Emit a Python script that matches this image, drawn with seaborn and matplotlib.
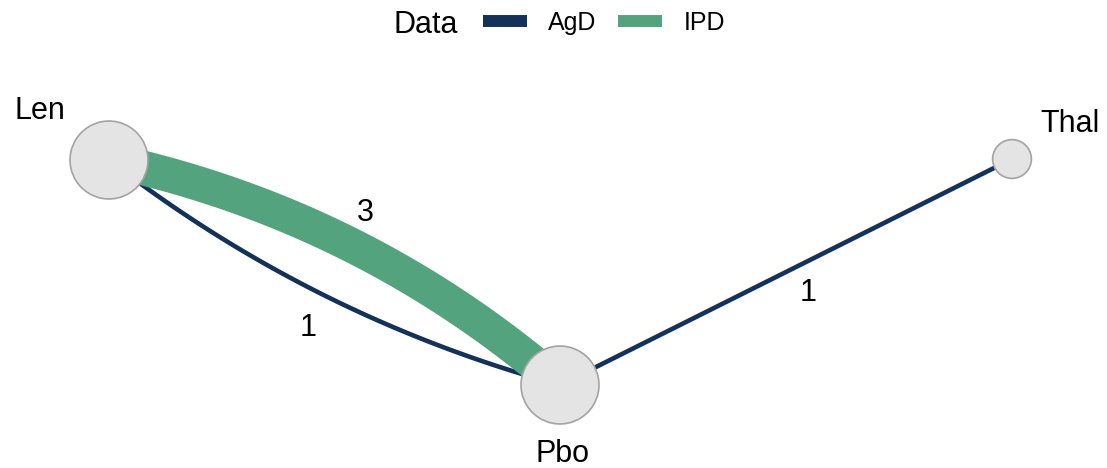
import numpy as np
import pandas as pd
import matplotlib
matplotlib.use('Agg')
import matplotlib.pyplot as plt
from matplotlib.lines import Line2D
import seaborn as sns

# network data
nodes = ['Len', 'Pbo', 'Thal']
node_x = [109, 560, 1012]
node_y = [160, 385, 159]
node_n = [4, 4, 1]

edge_from = ['Len', 'Len', 'Pbo']
edge_to = ['Pbo', 'Pbo', 'Thal']
edge_data = ['AgD', 'IPD', 'AgD']
edge_count = [1, 3, 1]

palette = {'AgD': '#14315a', 'IPD': '#53a37f'}

sns.set_theme(style='white')
plt.rcParams['font.family'] = ['Liberation Sans', 'DejaVu Sans']
plt.rcParams['text.color'] = 'black'

pos = {n: np.array([x, y], float) for n, x, y in zip(nodes, node_x, node_y)}

# bend of each edge (layout) and where its label sits
bend = [-50, 64, 0]
lab_t = [0.5, 0.5, 0.523]
lab_off = [-34, 38, -26]


def curve(p0, p1, b, t):
    d = p1 - p0
    n = np.array([d[1], -d[0]]) / np.linalg.norm(d)
    c = (p0 + p1) / 2 + b * n
    t = np.asarray(t)[:, None]
    return (1 - t) ** 2 * p0 + 2 * (1 - t) * t * c + t ** 2 * p1, n


rows = []
labels = []
for i, (a, b_) in enumerate(zip(edge_from, edge_to)):
    pts, n = curve(pos[a], pos[b_], bend[i], np.linspace(0, 1, 80))
    for x, y in pts:
        rows.append({'edge': i, 'x': x, 'y': y, 'Data': edge_data[i], 'count': edge_count[i]})
    mid, _ = curve(pos[a], pos[b_], bend[i], [lab_t[i]])
    labels.append((mid[0] + lab_off[i] * n, edge_count[i]))
edges = pd.DataFrame(rows)
node_df = pd.DataFrame({'node': nodes, 'x': node_x, 'y': node_y, 'n': node_n})

fig = plt.figure(figsize=(11.07, 4.68), dpi=100)
ax = fig.add_axes([0, 0, 1, 1])

sns.lineplot(data=edges, x='x', y='y', hue='Data', palette=palette,
             size='count', sizes=(3.3, 25), size_norm=(1, 3),
             units='edge', estimator=None, sort=False, legend=False,
             solid_capstyle='butt', ax=ax, zorder=1)

sns.scatterplot(data=node_df, x='x', y='y', size='n', sizes=(780, 3150),
                size_norm=(1, 4), color='#e4e4e4', edgecolor='#a3a3a3',
                linewidth=1.2, legend=False, ax=ax, zorder=3)

# edge labels
for p, c in labels:
    ax.text(p[0], p[1] + 11, str(c), ha='center', va='baseline', fontsize=22,
            color='black', zorder=4)

# node labels
node_lab_off = {'Len': (-69, -41), 'Pbo': (2, 77), 'Thal': (58, -27)}
for n, x, y in zip(nodes, node_x, node_y):
    dx, dy = node_lab_off[n]
    ax.text(x + dx, y + dy, n, ha='center', va='baseline', fontsize=22,
            color='black', zorder=4)

ax.set_xlim(0, 1107)
ax.set_ylim(468, 0)
ax.set_axis_off()

# legend
fig.text(393 / 1107, 1 - 33 / 468, 'Data', fontsize=22, va='baseline', ha='left',
         color='black')
handles = [Line2D([], [], color=palette[k], lw=8.6, solid_capstyle='butt') for k in palette]
leg = fig.legend(handles, list(palette), loc='center left',
                 bbox_to_anchor=(483 / 1107, 1 - 23 / 468), ncol=2, frameon=False,
                 fontsize=18, handlelength=1.76, handletextpad=0.84,
                 columnspacing=0.88, borderpad=0, borderaxespad=0)
for t in leg.get_texts():
    t.set_color('black')

fig.savefig('out.png', dpi=100)
